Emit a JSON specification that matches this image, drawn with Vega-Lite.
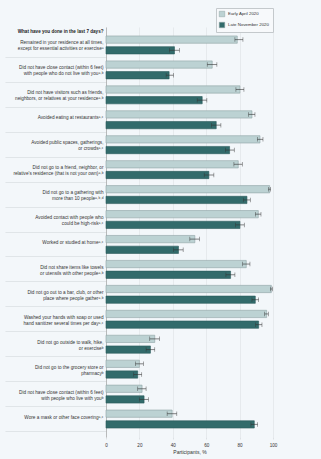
{
  "$schema": "https://vega.github.io/schema/vega-lite/v6.json",
  "width": 167,
  "height": 410,
  "autosize": {"type": "none"},
  "padding": {"left": 106, "top": 27, "right": 48, "bottom": 22},
  "background": "#f3f7fa",
  "config": {
    "font": "Liberation Sans",
    "view": {"stroke": null},
    "axisX": {
      "grid": true, "gridColor": "#dde1e4", "gridWidth": 0.6,
      "domain": false, "ticks": true, "tickSize": 2, "tickColor": "#dde1e4",
      "labelFontSize": 4.6, "labelPadding": 3, "labelColor": "#333",
      "labelOverlap": false, "labelFlush": false, "labelBound": false,
      "titleFontSize": 5, "titleFontWeight": "normal", "titlePadding": 3, "titleColor": "#333"
    }
  },
  "data": {"values": [
    {"q": "Remained in your residence at all times,|except for essential activities or exerciseᵃ", "period": "Early April 2020", "value": 78.6, "lo": 77.2, "hi": 82.0},
    {"q": "Remained in your residence at all times,|except for essential activities or exerciseᵃ", "period": "Late November 2020", "value": 41.0, "lo": 38.0, "hi": 44.0},
    {"q": "Did not have close contact (within 6 feet)|with people who do not live with youᵃ˒ᵇ", "period": "Early April 2020", "value": 63.6, "lo": 60.6, "hi": 66.4},
    {"q": "Did not have close contact (within 6 feet)|with people who do not live with youᵃ˒ᵇ", "period": "Late November 2020", "value": 37.8, "lo": 36.0, "hi": 40.4},
    {"q": "Did not have visitors such as friends,|neighbors, or relatives at your residenceᵃ˒ᵇ", "period": "Early April 2020", "value": 80.2, "lo": 77.8, "hi": 82.6},
    {"q": "Did not have visitors such as friends,|neighbors, or relatives at your residenceᵃ˒ᵇ", "period": "Late November 2020", "value": 57.6, "lo": 54.6, "hi": 60.4},
    {"q": "Avoided eating at restaurantsᵃ˒ᶜ", "period": "Early April 2020", "value": 87.4, "lo": 85.4, "hi": 89.2},
    {"q": "Avoided eating at restaurantsᵃ˒ᶜ", "period": "Late November 2020", "value": 66.0, "lo": 63.2, "hi": 68.8},
    {"q": "Avoided public spaces, gatherings,|or crowdsᵃ˒ᶜ", "period": "Early April 2020", "value": 92.2, "lo": 90.6, "hi": 94.0},
    {"q": "Avoided public spaces, gatherings,|or crowdsᵃ˒ᶜ", "period": "Late November 2020", "value": 74.0, "lo": 71.6, "hi": 76.8},
    {"q": "Did not go to a friend, neighbor, or|relative's residence (that is not your own)ᵃ˒ᵇ", "period": "Early April 2020", "value": 79.2, "lo": 76.6, "hi": 81.6},
    {"q": "Did not go to a friend, neighbor, or|relative's residence (that is not your own)ᵃ˒ᵇ", "period": "Late November 2020", "value": 61.6, "lo": 58.8, "hi": 64.6},
    {"q": "Did not go to a gathering with|more than 10 peopleᵃ˒ᵇ˒ᵈ", "period": "Early April 2020", "value": 98.0, "lo": 97.2, "hi": 98.6},
    {"q": "Did not go to a gathering with|more than 10 peopleᵃ˒ᵇ˒ᵈ", "period": "Late November 2020", "value": 84.4, "lo": 82.2, "hi": 86.4},
    {"q": "Avoided contact with people who|could be high-riskᵃ˒ᶜ", "period": "Early April 2020", "value": 91.2, "lo": 89.4, "hi": 92.8},
    {"q": "Avoided contact with people who|could be high-riskᵃ˒ᶜ", "period": "Late November 2020", "value": 80.2, "lo": 77.6, "hi": 82.8},
    {"q": "Worked or studied at homeᵃ˒ᶜ", "period": "Early April 2020", "value": 53.2, "lo": 50.2, "hi": 56.0},
    {"q": "Worked or studied at homeᵃ˒ᶜ", "period": "Late November 2020", "value": 43.4, "lo": 40.4, "hi": 46.2},
    {"q": "Did not share items like towels|or utensils with other peopleᵃ˒ᵇ", "period": "Early April 2020", "value": 84.0, "lo": 81.8, "hi": 86.2},
    {"q": "Did not share items like towels|or utensils with other peopleᵃ˒ᵇ", "period": "Late November 2020", "value": 74.6, "lo": 71.8, "hi": 77.2},
    {"q": "Did not go out to a bar, club, or other|place where people gatherᵃ˒ᵇ", "period": "Early April 2020", "value": 99.0, "lo": 98.4, "hi": 99.6},
    {"q": "Did not go out to a bar, club, or other|place where people gatherᵃ˒ᵇ", "period": "Late November 2020", "value": 89.4, "lo": 87.4, "hi": 91.4},
    {"q": "Washed your hands with soap or used|hand sanitizer several times per dayᵃ˒ᶜ", "period": "Early April 2020", "value": 96.2, "lo": 95.0, "hi": 97.2},
    {"q": "Washed your hands with soap or used|hand sanitizer several times per dayᵃ˒ᶜ", "period": "Late November 2020", "value": 91.4, "lo": 89.6, "hi": 93.4},
    {"q": "Did not go outside to walk, hike,|or exerciseᵇ", "period": "Early April 2020", "value": 29.2, "lo": 26.2, "hi": 32.0},
    {"q": "Did not go outside to walk, hike,|or exerciseᵇ", "period": "Late November 2020", "value": 26.6, "lo": 24.0, "hi": 29.2},
    {"q": "Did not go to the grocery store or|pharmacyᵇ", "period": "Early April 2020", "value": 20.0, "lo": 17.6, "hi": 22.4},
    {"q": "Did not go to the grocery store or|pharmacyᵇ", "period": "Late November 2020", "value": 19.0, "lo": 16.6, "hi": 21.4},
    {"q": "Did not have close contact (within 6 feet)|with people who live with youᵇ", "period": "Early April 2020", "value": 21.6, "lo": 19.0, "hi": 24.0},
    {"q": "Did not have close contact (within 6 feet)|with people who live with youᵇ", "period": "Late November 2020", "value": 22.8, "lo": 20.0, "hi": 25.4},
    {"q": "Wore a mask or other face coveringᵃ˒ᶜ", "period": "Early April 2020", "value": 39.6, "lo": 36.6, "hi": 42.4},
    {"q": "Wore a mask or other face coveringᵃ˒ᶜ", "period": "Late November 2020", "value": 88.8, "lo": 86.8, "hi": 90.8}
  ]},
  "encoding": {
    "y": {
      "field": "q", "type": "nominal", "sort": null,
      "scale": {"paddingInner": 0, "paddingOuter": 0.22},
      "axis": {
        "title": "What have you done in the last 7 days?",
        "titleAngle": 0, "titleAlign": "right", "titleBaseline": "middle",
        "titleX": -3, "titleY": 4, "titleFontSize": 4.6, "titleFontWeight": "bold", "titleColor": "#222",
        "labelExpr": "split(datum.label, '|')",
        "labelFontSize": 4.7, "labelLineHeight": 6, "labelColor": "#333", "labelLimit": 0,
        "labelOverlap": false, "labelAlign": "right", "labelBaseline": "middle",
        "bandPosition": 1, "labelOffset": -1.5,
        "ticks": true, "tickSize": 101, "tickColor": "#d3d8dc", "tickWidth": 0.6,
        "labelPadding": -98,
        "domainColor": "#999", "domainWidth": 0.6, "grid": false
      }
    },
    "yOffset": {
      "field": "period", "type": "nominal", "sort": ["Early April 2020", "Late November 2020"],
      "scale": {"paddingInner": 0.318, "paddingOuter": 0.324}
    }
  },
  "layer": [
    {
      "mark": {"type": "bar", "strokeWidth": 0.6},
      "encoding": {
        "x": {
          "field": "value", "type": "quantitative", "scale": {"domain": [0, 100]},
          "axis": {"title": "Participants, %", "values": [0, 20, 40, 60, 80, 100]}
        },
        "color": {
          "field": "period", "type": "nominal",
          "scale": {"domain": ["Early April 2020", "Late November 2020"], "range": ["#bcd2d3", "#326b6b"]},
          "legend": {
            "title": null, "orient": "none", "legendX": 110, "legendY": -19,
            "labelFontSize": 4.4, "labelColor": "#333", "symbolType": "square", "symbolSize": 30,
            "symbolStrokeColor": "#8fa3a4", "symbolStrokeWidth": 0.5,
            "strokeColor": "#c4c9cc", "padding": 3, "rowPadding": 3, "fillColor": "#f7f9fb",
            "labelOffset": 3
          }
        },
        "stroke": {
          "condition": {"test": "datum.period === 'Early April 2020'", "value": "#8fa3a4"},
          "value": "#2a5a5a"
        }
      }
    },
    {
      "mark": {"type": "rule", "strokeWidth": 0.6, "color": "#333"},
      "encoding": {
        "x": {"field": "lo", "type": "quantitative", "axis": {"title": "Participants, %", "values": [0, 20, 40, 60, 80, 100]}},
        "x2": {"field": "hi"}
      }
    },
    {
      "mark": {"type": "tick", "orient": "vertical", "size": 4.5, "thickness": 0.6, "color": "#333"},
      "encoding": {"x": {"field": "lo", "type": "quantitative", "axis": {"title": "Participants, %", "values": [0, 20, 40, 60, 80, 100]}}}
    },
    {
      "mark": {"type": "tick", "orient": "vertical", "size": 4.5, "thickness": 0.6, "color": "#333"},
      "encoding": {"x": {"field": "hi", "type": "quantitative", "axis": {"title": "Participants, %", "values": [0, 20, 40, 60, 80, 100]}}}
    }
  ]
}
